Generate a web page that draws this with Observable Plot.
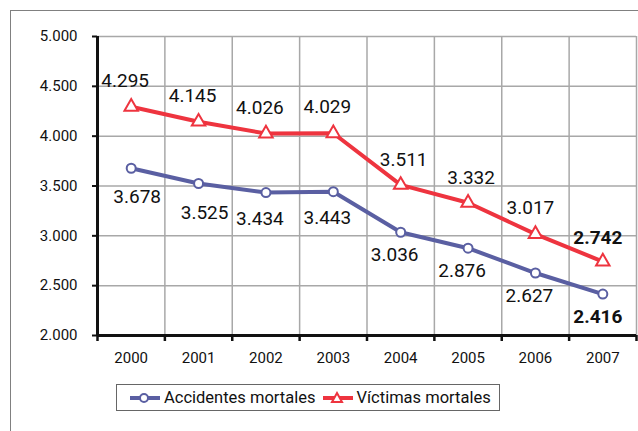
<!DOCTYPE html>
<html>
<head>
<meta charset="utf-8">
<script src="https://cdn.jsdelivr.net/npm/d3@7"></script>
<script src="https://cdn.jsdelivr.net/npm/@observablehq/plot@0.6"></script>
<style>
  html, body { margin: 0; padding: 0; background: #fff; overflow: hidden; }
  #wrap { position: relative; width: 638px; height: 431px; overflow: hidden; font-family: Roboto, "DejaVu Sans", sans-serif; }
  #frame { position: absolute; left: 10px; top: 10px; width: 700px; height: 500px; border-top: 1.5px solid #808080; border-left: 1.5px solid #808080; }
  #chart { position: absolute; left: 0; top: 0; }
  #legend { position: absolute; left: 116px; top: 384px; width: 384px; height: 27px; border: 1.5px solid #666; box-sizing: border-box; display: flex; align-items: center; font-size: 16.5px; color: #111; background: #fff; }
  .item { display: flex; align-items: center; }
  .item svg { margin-right: 3px; }
</style>
</head>
<body>
<div id="wrap">
  <div id="frame"></div>
  <div id="chart"></div>
  <div id="legend"></div>
</div>
<script>
const years = [2000, 2001, 2002, 2003, 2004, 2005, 2006, 2007];
const accidentes = [3678, 3525, 3434, 3443, 3036, 2876, 2627, 2416];
const victimas = [4295, 4145, 4026, 4029, 3511, 3332, 3017, 2742];
const yTicks = [2000, 2500, 3000, 3500, 4000, 4500, 5000];
const seriesNames = ["Accidentes mortales", "Víctimas mortales"];

const blue = "#5a5fa2";
const red = "#ee343f";

const fmt = d => d3.format(",")(d).replace(/,/g, ".");
const acc = years.map((y, i) => ({year: y, value: accidentes[i]}));
const vic = years.map((y, i) => ({year: y, value: victimas[i]}));
const bounds = years.map(y => y - 0.5).concat([years[years.length - 1] + 0.5]);

const font = "Roboto, 'DejaVu Sans', sans-serif";

function labels(data, yrs, opts) {
  return Plot.text(data.filter(d => yrs.includes(d.year)), {
    x: "year", y: "value", text: d => fmt(d.value),
    fontSize: 19, fill: "#111", fontFamily: font, ...opts
  });
}

const chart = Plot.plot({
  width: 638,
  height: 370,
  marginLeft: 97,
  marginRight: 2,
  marginTop: 36,
  marginBottom: 35,
  style: {fontFamily: font, fontSize: "15px", color: "#111", background: "transparent"},
  x: {domain: [years[0] - 0.5, years[years.length - 1] + 0.5]},
  y: {domain: [yTicks[0], yTicks[yTicks.length - 1]]},
  marks: [
    Plot.ruleY(yTicks, {stroke: "#a8a8a8", strokeWidth: 1.5}),
    Plot.ruleX(bounds, {stroke: "#a8a8a8", strokeWidth: 1.5}),
    Plot.axisY({ticks: yTicks, tickFormat: fmt, tickSize: 5, tickPadding: 15, stroke: "#111", strokeWidth: 2, fontSize: 15, label: null}),
    Plot.axisX({ticks: bounds, tickFormat: () => "", tickSize: 6, stroke: "#111", strokeWidth: 2.5, label: null}),
    Plot.axisX({ticks: years, tickFormat: d => String(d), tickSize: 0, tickPadding: 17, fontSize: 15, label: null}),
    Plot.ruleX([bounds[0]], {stroke: "#111", strokeWidth: 3}),
    Plot.ruleY([yTicks[0]], {stroke: "#111", strokeWidth: 3}),
    Plot.line(acc, {x: "year", y: "value", stroke: blue, strokeWidth: 4}),
    Plot.line(vic, {x: "year", y: "value", stroke: red, strokeWidth: 4}),
    Plot.dot(acc, {x: "year", y: "value", r: 4.5, fill: "white", stroke: blue, strokeWidth: 2}),
    Plot.dot(vic, {x: "year", y: "value", symbol: "triangle", r: 5, fill: "white", stroke: red, strokeWidth: 2}),
    labels(vic, [2000, 2001, 2002, 2003], {dx: -6, dy: -26}),
    labels(vic, [2004, 2005], {dx: 3, dy: -25}),
    labels(vic, [2006], {dx: -5, dy: -26}),
    labels(vic, [2007], {dx: -5, dy: -24, fontWeight: "bold"}),
    labels(acc, [2000, 2001], {dx: 6, dy: 29}),
    labels(acc, [2002, 2003], {dx: -6, dy: 26}),
    labels(acc, [2004, 2005, 2006], {dx: -6, dy: 23}),
    labels(acc, [2007], {dx: -5, dy: 23, fontWeight: "bold"})
  ]
});
document.getElementById("chart").appendChild(chart);

const legend = document.getElementById("legend");
function swatch(color, shape) {
  const ns = "http://www.w3.org/2000/svg";
  const s = document.createElementNS(ns, "svg");
  s.setAttribute("width", 32); s.setAttribute("height", 14);
  const l = document.createElementNS(ns, "line");
  l.setAttribute("x1", 1); l.setAttribute("x2", 31); l.setAttribute("y1", 7); l.setAttribute("y2", 7);
  l.setAttribute("stroke", color); l.setAttribute("stroke-width", 4);
  s.appendChild(l);
  let m;
  if (shape === "circle") {
    m = document.createElementNS(ns, "circle");
    m.setAttribute("cx", 15); m.setAttribute("cy", 7); m.setAttribute("r", 4);
  } else {
    m = document.createElementNS(ns, "path");
    m.setAttribute("d", "M15,2 L20,11 L10,11 Z");
  }
  m.setAttribute("fill", "white"); m.setAttribute("stroke", color); m.setAttribute("stroke-width", 2);
  s.appendChild(m);
  return s;
}
[[seriesNames[0], blue, "circle", 12], [seriesNames[1], red, "triangle", 6]].forEach(([name, c, sh, ml]) => {
  const it = document.createElement("div");
  it.className = "item";
  it.style.marginLeft = ml + "px";
  it.appendChild(swatch(c, sh));
  const t = document.createElement("span");
  t.textContent = name;
  it.appendChild(t);
  legend.appendChild(it);
});
</script>
</body>
</html>
